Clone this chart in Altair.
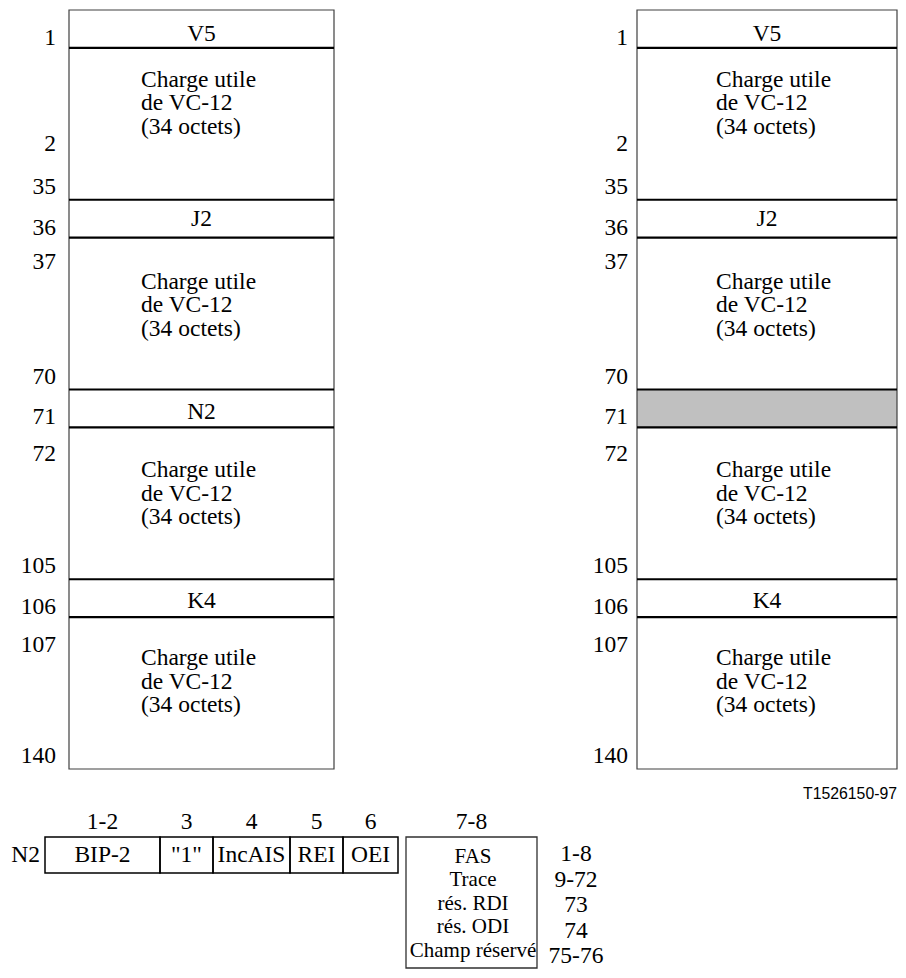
import altair as alt
import pandas as pd

# ---------------- data ----------------
row_fields = ["V5", "", "J2", "", "N2", "", "K4", ""]
row_units = [1, 4, 1, 4, 1, 4, 1, 4]
row_first_byte = ["1", "2", "36", "37", "71", "72", "106", "107"]
row_last_byte = ["", "35", "", "70", "", "105", "", "140"]
payload_lines = ["Charge utile", "de VC-12", "(34 octets)"]
shaded_in_right = ["N2"]

n2_bit_labels = ["1-2", "3", "4", "5", "6", "7-8"]
n2_field_names = ["BIP-2", '"1"', "IncAIS", "REI", "OEI", ""]
mf_field_names = ["FAS", "Trace", "rés. RDI", "rés. ODI", "Champ réservé"]
mf_bit_labels = ["1-8", "9-72", "73", "74", "75-76"]
figure_id = "T1526150-97"

# ---------------- layout ----------------
W, H = 890, 962
TOP, UNIT = 10, 37.95
columns = [
    {"x0": 69, "x1": 334, "lab": 56, "txt": 141, "shade": False},
    {"x0": 637, "x1": 897, "lab": 628, "txt": 716, "shade": True},
]
header_text_offsets = [5.5, 0, 4, 3]
payload_text_offsets = [32, 44, 43, 41]
payload_start_offsets = [96.5, 24, 27, 28]
LINE = 23.5
FS = 23.5
n2_edges = [45, 160, 213, 290, 343, 398]
mf_x0, mf_x1 = 406, 537
n2_top, n2_bot, mf_bot = 837, 873, 968
SERIF = "Liberation Serif"

xs = alt.Scale(domain=[8, 8 + W], nice=False, zero=False)
ys = alt.Scale(domain=[8, 8 + H], nice=False, zero=False, reverse=True)

frames, shades, seps, hdr, pay, labs = [], [], [], [], [], []
for col in columns:
    t = TOP
    k = 0
    h = 0
    for i, (f, u) in enumerate(zip(row_fields, row_units)):
        top, bot = t, t + u * UNIT
        t = bot
        if i > 0:
            seps.append({"x": col["x0"], "x2": col["x1"], "y": top})
        if f:
            if col["shade"] and f in shaded_in_right:
                shades.append({"x": col["x0"], "x2": col["x1"], "y": top, "y2": bot})
            else:
                hdr.append({"x": (col["x0"] + col["x1"]) / 2,
                            "y": (top + bot) / 2 + header_text_offsets[h], "t": f})
            labs.append({"x": col["lab"], "y": bot - 10, "t": row_first_byte[i]})
            h += 1
        else:
            for j, ln in enumerate(payload_lines):
                pay.append({"x": col["txt"], "y": top + payload_text_offsets[k] + j * LINE, "t": ln})
            labs.append({"x": col["lab"], "y": top + payload_start_offsets[k], "t": row_first_byte[i]})
            labs.append({"x": col["lab"], "y": bot - 13, "t": row_last_byte[i]})
            k += 1
    frames.append({"x": col["x0"], "x2": col["x1"], "y": TOP, "y2": t})

boxes, box_txt, bit_txt = [], [], []
for i in range(5):
    a, b = n2_edges[i], n2_edges[i + 1]
    boxes.append({"x": a, "x2": b, "y": n2_top, "y2": n2_bot})
    box_txt.append({"x": (a + b) / 2, "y": 855, "t": n2_field_names[i]})
    bit_txt.append({"x": (a + b) / 2, "y": 822, "t": n2_bit_labels[i]})
bit_txt.append({"x": (mf_x0 + mf_x1) / 2, "y": 822, "t": n2_bit_labels[5]})
mf_box = [{"x": mf_x0, "x2": mf_x1, "y": n2_top, "y2": mf_bot}]
mf_txt = [{"x": 473, "y": 857 + 23.4 * j, "t": s} for j, s in enumerate(mf_field_names)]
mf_num = [{"x": 576, "y": 854 + 25.5 * j, "t": s} for j, s in enumerate(mf_bit_labels)]
n2_lab = [{"x": 40, "y": 855, "t": "N2"}]
fid = [{"x": 897, "y": 794, "t": figure_id}]


def X(f="x"):
    return alt.X(f + ":Q", scale=xs, axis=None)


def Y(f="y"):
    return alt.Y(f + ":Q", scale=ys, axis=None)


def rects(data, **kw):
    return alt.Chart(pd.DataFrame(data)).mark_rect(**kw).encode(
        x=X(), x2="x2:Q", y=Y(), y2="y2:Q")


def texts(data, **kw):
    return alt.Chart(pd.DataFrame(data)).mark_text(baseline="middle", color="black", **kw).encode(
        x=X(), y=Y(), text="t:N")


layers = [
    rects(shades, fill="#c0c0c0"),
    rects(frames, fillOpacity=0, stroke="#404040", strokeWidth=1.2),
    alt.Chart(pd.DataFrame(seps)).mark_rule(color="black", strokeWidth=2.2).encode(
        x=X(), x2="x2:Q", y=Y()),
    texts(hdr, font=SERIF, fontSize=FS, align="center"),
    texts(pay, font=SERIF, fontSize=FS, align="left"),
    texts(labs, font=SERIF, fontSize=FS, align="right"),
    rects(boxes, fillOpacity=0, stroke="black", strokeWidth=1.5),
    rects(mf_box, fillOpacity=0, stroke="#303030", strokeWidth=1.3),
    texts(box_txt, font=SERIF, fontSize=FS, align="center"),
    texts(bit_txt, font=SERIF, fontSize=FS, align="center"),
    texts(mf_txt, font=SERIF, fontSize=21, align="center"),
    texts(mf_num, font=SERIF, fontSize=FS, align="center"),
    texts(n2_lab, font=SERIF, fontSize=FS, align="right"),
    texts(fid, font="Liberation Sans", fontSize=15.8, align="right"),
]

chart = alt.layer(*layers).properties(
    width=W, height=H, padding=0,
    autosize=alt.AutoSizeParams(type="none"),
).configure_view(strokeWidth=0)

chart.save("out.html", embed_options={"renderer": "svg", "actions": False})
